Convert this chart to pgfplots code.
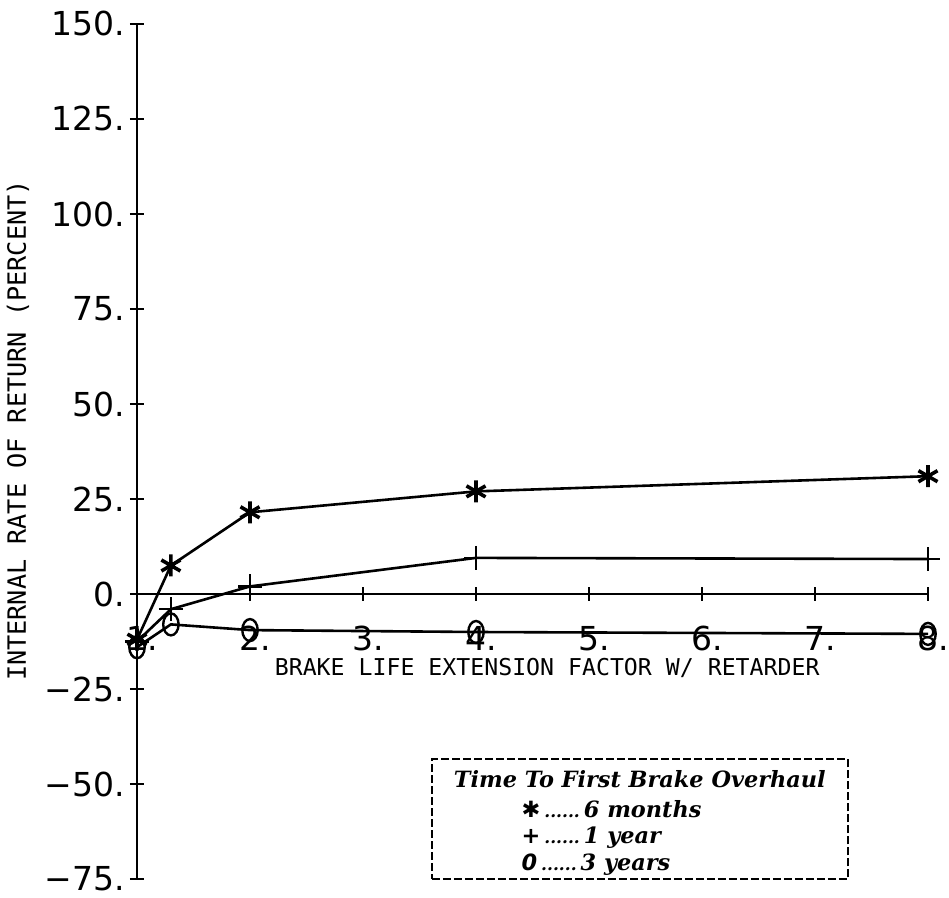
\documentclass[border=0pt]{standalone}
\usepackage{fontspec}
\usepackage{pgfplots}
\pgfplotsset{compat=1.18}
\newfontfamily\tickfont{DejaVu Sans}
\newfontfamily\labfont{DejaVu Sans Mono}
\newfontfamily\legfont{DejaVu Serif}
\newfontfamily\symfont{DejaVu Sans}
\newcommand\dotsx{\hspace{2pt}{\fontsize{8.5}{8.5}\selectfont......}\hspace{2pt}}
\begin{document}
\begin{tikzpicture}
\begin{axis}[
  scale only axis,
  width=395.5pt, height=427.5pt,
  xmin=1, xmax=8, ymin=-75, ymax=150,
  clip=false,
  axis x line*=middle, axis y line*=left,
  axis line style={line width=0.9pt},
  hide obscured x ticks=false, hide obscured y ticks=false,
  tick align=center, major tick length=7pt,
  tick style={line width=0.9pt, black},
  xtick={1,2,3,4,5,6,7,8},
  xticklabels={1.,2.,3.,4.,5.,6.,7.,8.},
  ytick={-75,-50,-25,0,25,50,75,100,125,150},
  yticklabels={−75.,−50.,−25.,0.,25.,50.,75.,100.,125.,150.},
  ticklabel style={font=\tickfont\fontsize{16.5}{17}\selectfont},
  xticklabel style={yshift=-9pt, xshift=2.5pt},
  yticklabel style={xshift=1pt},
]
\addplot[line width=1.3pt, mark=asterisk, mark size=5.5pt, mark options={line width=1.8pt}]
  coordinates {(1,-12) (1.3,7.5) (2,21.5) (4,27) (8,31)};
\addplot[line width=1.3pt, mark=+, mark size=6pt, mark options={line width=1.2pt}]
  coordinates {(1,-12.5) (1.3,-4) (2,2) (4,9.5) (8,9.2)};
\addplot[line width=1.3pt, mark=o, mark size=5.5pt, mark options={xscale=0.7, line width=1.2pt}]
  coordinates {(1,-14) (1.3,-8) (2,-9.5) (4,-10) (8,-10.5)};
\node[font=\labfont\fontsize{11.6}{12}\selectfont] at (axis cs:4.63,-19.5)
  {BRAKE LIFE EXTENSION FACTOR W/ RETARDER};
\node[font=\labfont\fontsize{12.6}{12}\selectfont, rotate=90] at (axis cs:-0.053,43)
  {INTERNAL RATE OF RETURN (PERCENT)};
\node[draw, dashed, dash pattern=on 4pt off 1.5pt, line width=0.9pt, minimum width=208pt, minimum height=60pt,
      inner sep=0pt, anchor=center] at (axis cs:5.45,-59.3) {};
\node[font=\legfont\bfseries\itshape\fontsize{11.2}{11.2}\selectfont, anchor=north, inner sep=0pt]
  at (axis cs:5.45,-46.3) {Time To First Brake Overhaul};
\node[font=\legfont\bfseries\itshape\fontsize{11.2}{13.3}\selectfont, anchor=north west, inner sep=0pt, align=left]
  at (axis cs:4.4,-54.2) {{\symfont ✱}\dotsx 6 months\\{\symfont +}\dotsx 1 year\\{\symfont 0}\dotsx 3 years};
\coordinate (bl) at (rel axis cs:0,0);
\coordinate (tr) at (rel axis cs:1,1);
\end{axis}
\pgfresetboundingbox
\path[use as bounding box] ([shift={(-68.5pt,-9pt)}]bl) rectangle ([shift={(10.5pt,12pt)}]tr);
\end{tikzpicture}
\end{document}
